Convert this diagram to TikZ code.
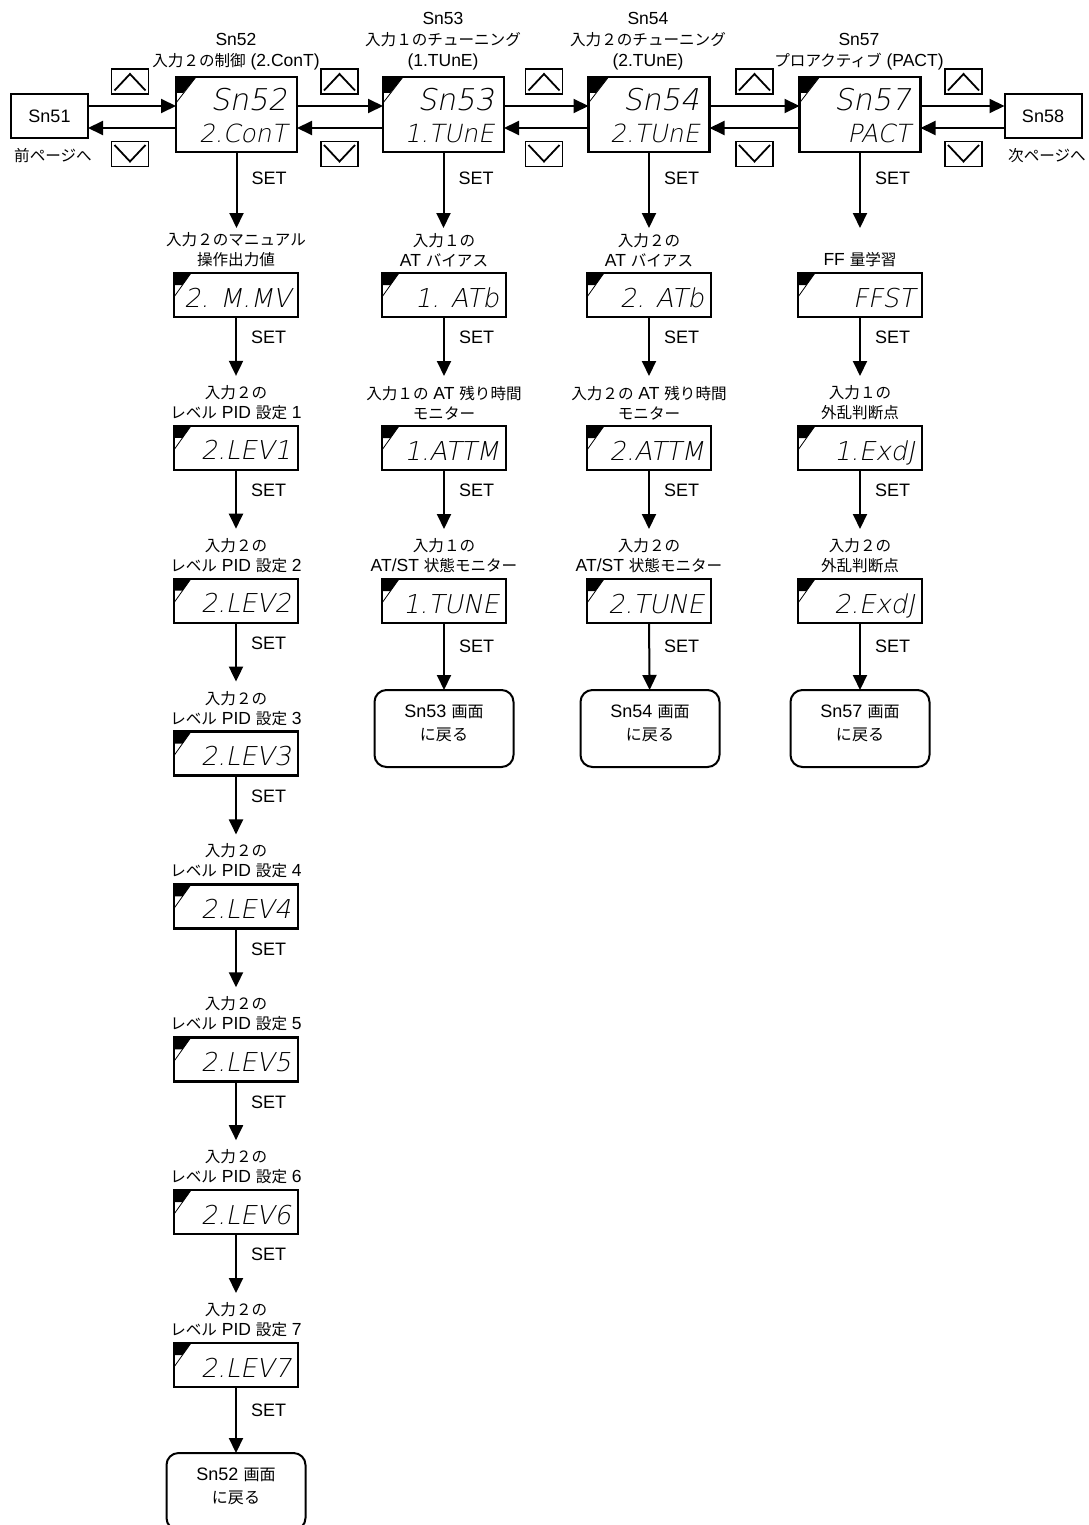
\documentclass[tikz,border=0pt]{standalone}
\usepackage{fontspec}
\setmainfont{Liberation Sans}
\newfontfamily\jp{Noto Sans CJK JP}[Scale=0.89]
\newfontfamily\segf{DejaVu Sans ExtraLight}[FakeSlant=0.2]
\usetikzlibrary{calc, positioning, arrows.meta}
\tikzset{
  >={Triangle[length=15pt, width=14pt]},
  sn flow/.style={draw=black, ->, line width=2pt},
  sn big/.style={draw=black, fill=white, minimum width=121pt, minimum height=75pt,
    line width=2.4pt, inner sep=0pt, outer sep=0pt},
  sn small/.style={draw=black, fill=white, minimum width=124pt, minimum height=44pt,
    line width=2.4pt, inner sep=0pt, outer sep=0pt},
  sn page/.style={draw=black, minimum width=77pt, minimum height=44pt,
    line width=2pt, outer sep=0pt, font=\fontsize{18}{21}\selectfont},
  sn back/.style={draw=black, rounded corners=12pt, minimum width=139pt, minimum height=77pt,
    line width=2pt, align=center, outer sep=0pt, text depth=11pt,
    font=\fontsize{18}{23}\selectfont},
  sn key/.style={draw=black, minimum width=37pt, minimum height=25pt,
    line width=1.3pt, inner sep=0pt, outer sep=0pt},
  sn chev/.style={draw=black, line width=1.8pt},
  sn lbl/.style={align=center, inner sep=0pt, font=\fontsize{17.5}{20}\selectfont},
  sn title/.style={sn lbl, anchor=south, font=\fontsize{17.5}{21}\selectfont},
  sn set/.style={pos=0.35, anchor=west, xshift=14pt, inner sep=0pt,
    font=\fontsize{18}{20}\selectfont},
  sn seg/.style={inner sep=0pt, font=\segf\fontsize{#1}{#1}\selectfont},
}
% display with two lines (screen heads)
\newcommand{\bigdisp}[5]{%
  \node[sn big] (#1) at (#2,#3) {};
  \fill (#1.north west) -- ++(20,0) -- ++(-12.8,16) -- ++(-7.2,0) -- cycle;
  \draw[line width=0.8pt] ($(#1.north west)+(20,0)$) -- ++(-20,26);
  \node[sn seg=30, anchor=base east] (#1-a) at ($(#1.north east)+(-10,34)$) {#4};
  \node[sn seg=25, anchor=base east] (#1-b) at ($(#1.north east)+(-10,66)$) {#5};
}
% one-line display with its caption above
\newcommand{\smalldisp}[5]{%
  \node[sn small] (#1) at (#2,#3+22) {};
  \fill (#1.north west) -- ++(17,0) -- ++(-8.5,12) -- ++(-8.5,0) -- cycle;
  \draw[line width=0.8pt] ($(#1.north west)+(17,0)$) -- ++(-17,24);
  \node[sn seg=26, anchor=base east] (#1-t) at ($(#1.north east)+(-7,34)$) {#4};
  \node[sn lbl, anchor=south] (#1-l) at (#2,#3-6) {#5};
  \coordinate (#1-in) at (#2,#3-50);
}

\begin{document}
\begin{tikzpicture}[x=1pt, y=-1pt]
\useasboundingbox (0,0) rectangle (1088,1525);

% titles
\node[sn title] (t52) at (236,70) {Sn52\\{\jp 入力２の制御} (2.ConT)};
\node[sn title] (t53) at (443,70) {Sn53\\{\jp 入力１のチューニング}\\(1.TUnE)};
\node[sn title] (t54) at (648,70) {Sn54\\{\jp 入力２のチューニング}\\(2.TUnE)};
\node[sn title] (t57) at (859,70) {Sn57\\{\jp プロアクティブ} (PACT)};

% top row
\node[sn page] (sn51) at (49.5,116) {Sn51};
\bigdisp{sn52}{236.5}{114.5}{Sn52}{2.ConT}
\bigdisp{sn53}{443.5}{114.5}{Sn53}{1.TUnE}
\bigdisp{sn54}{649}{114.5}{Sn54}{2.TUnE}
\bigdisp{sn57}{860}{114.5}{Sn57}{PACT}
\node[sn page] (sn58) at (1043,116) {Sn58};
\node[sn lbl] (prev) at (53,156) {\jp 前ページへ};
\node[sn lbl] (next) at (1047,156) {\jp 次ページへ};

% up / down keys
\foreach \n/\x in {ka/130, kb/339.5, kc/544, kd/754.5, ke/963.5}{
  \node[sn key] (\n-up) at (\x,81.5) {};
  \draw[sn chev] ($(\n-up.south west)+(3,-3.5)$) -- ($(\n-up.north)+(0,5)$)
    -- ($(\n-up.south east)+(-3,-3.5)$);
  \node[sn key] (\n-dn) at (\x,154) {};
  \draw[sn chev] ($(\n-dn.north west)+(3,3.5)$) -- ($(\n-dn.south)+(0,-5)$)
    -- ($(\n-dn.north east)+(-3,3.5)$);
}

\coordinate (ra) at (0,106);
\coordinate (rb) at (0,128);
\coordinate (rc) at (0,228);
\foreach \a/\b in {sn51/sn52, sn52/sn53, sn53/sn54, sn54/sn57, sn57/sn58}{
  \draw[sn flow] (\a.east |- ra) -- (\b.west |- ra);
  \draw[sn flow] (\b.west |- rb) -- (\a.east |- rb);
}

% Sn52 column
\smalldisp{mmv}{236}{273}{2. M.MV}{{\jp 入力２のマニュアル}\\{\jp 操作出力値}}
\foreach \k in {1,...,7}{
  \pgfmathsetmacro{\tp}{273+152.86*\k}
  \smalldisp{lev\k}{236}{\tp}{2.LEV\k}{{\jp 入力２の}\\{\jp レベル} PID {\jp 設定} \k}
}
\node[sn back] (back52) at (236,1491.5) {Sn52 {\jp 画面}\\{\jp に戻る}};
\draw[sn flow] (sn52.south) -- node[sn set]{SET} (sn52.south |- rc);
\draw[sn flow] (mmv.south) -- node[sn set]{SET} (lev1-in);
\foreach \k [evaluate=\k as \j using int(\k+1)] in {1,...,6}{
  \draw[sn flow] (lev\k.south) -- node[sn set]{SET} (lev\j-in);
}
\draw[sn flow] (lev7.south) -- node[sn set]{SET} (back52);

% Sn53 column
\smalldisp{atb1}{444}{273}{1. ATb}{{\jp 入力１の}\\AT {\jp バイアス}}
\smalldisp{atm1}{444}{426}{1.ATTM}{{\jp 入力１の} AT {\jp 残り時間}\\{\jp モニター}}
\smalldisp{tun1}{444}{579}{1.TUNE}{{\jp 入力１の}\\AT/ST {\jp 状態モニター}}
\node[sn back] (back53) at (444,728.5) {Sn53 {\jp 画面}\\{\jp に戻る}};
\draw[sn flow] (sn53.south) -- node[sn set]{SET} (sn53.south |- rc);
\draw[sn flow] (atb1.south) -- node[sn set]{SET} (atm1-in);
\draw[sn flow] (atm1.south) -- node[sn set]{SET} (tun1-in);
\draw[sn flow] (tun1.south) -- node[sn set]{SET} (back53);

% Sn54 column
\smalldisp{atb2}{649}{273}{2. ATb}{{\jp 入力２の}\\AT {\jp バイアス}}
\smalldisp{atm2}{649}{426}{2.ATTM}{{\jp 入力２の} AT {\jp 残り時間}\\{\jp モニター}}
\smalldisp{tun2}{649}{579}{2.TUNE}{{\jp 入力２の}\\AT/ST {\jp 状態モニター}}
\node[sn back] (back54) at (650,728.5) {Sn54 {\jp 画面}\\{\jp に戻る}};
\draw[sn flow] (sn54.south) -- node[sn set]{SET} (sn54.south |- rc);
\draw[sn flow] (atb2.south) -- node[sn set]{SET} (atm2-in);
\draw[sn flow] (atm2.south) -- node[sn set]{SET} (tun2-in);
\draw[sn flow] (tun2.south) -- node[sn set]{SET} (back54);

% Sn57 column
\smalldisp{ffs}{860}{273}{FFST}{FF {\jp 量学習}}
\smalldisp{exd1}{860}{426}{1.ExdJ}{{\jp 入力１の}\\{\jp 外乱判断点}}
\smalldisp{exd2}{860}{579}{2.ExdJ}{{\jp 入力２の}\\{\jp 外乱判断点}}
\node[sn back] (back57) at (860,728.5) {Sn57 {\jp 画面}\\{\jp に戻る}};
\draw[sn flow] (sn57.south) -- node[sn set]{SET} (sn57.south |- rc);
\draw[sn flow] (ffs.south) -- node[sn set]{SET} (exd1-in);
\draw[sn flow] (exd1.south) -- node[sn set]{SET} (exd2-in);
\draw[sn flow] (exd2.south) -- node[sn set]{SET} (back57);
\end{tikzpicture}
\end{document}
